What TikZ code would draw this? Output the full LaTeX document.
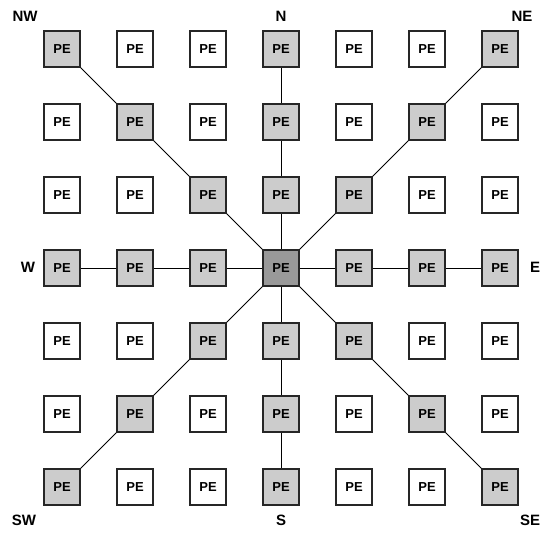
\documentclass[tikz,border=0pt]{standalone}
\usepackage{fontspec}
\setmainfont{Liberation Sans}
\begin{document}
\begin{tikzpicture}[x=1pt,y=-1pt,
  pe/.style={draw=black!85,line width=1.2pt,fill=white,minimum size=36pt,inner sep=0pt,
    font=\fontsize{13}{15}\selectfont\bfseries},
  act/.style={pe,fill=black!20},
  hub/.style={pe,fill=black!40},
  dirlabel/.style={font=\fontsize{15}{17}\selectfont\bfseries},
  link/.style={line width=0.9pt,black}]
\useasboundingbox (0,0) rectangle (546,534);
% 7x7 grid of processing elements
\foreach \i in {0,...,6}{
  \foreach \j in {0,...,6}{
    \pgfmathtruncatemacro{\di}{\i-3}
    \pgfmathtruncatemacro{\dj}{\j-3}
    \pgfmathtruncatemacro{\onaxis}{(\di==0 || \dj==0 || abs(\di)==abs(\dj)) ? 1 : 0}
    \pgfmathtruncatemacro{\iscenter}{(\di==0 && \dj==0) ? 1 : 0}
    \ifnum\iscenter=1
      \node[hub] (p\i\j) at (62+73*\i,49+73*\j) {PE};
    \else\ifnum\onaxis=1
      \node[act] (p\i\j) at (62+73*\i,49+73*\j) {PE};
    \else
      \node[pe] (p\i\j) at (62+73*\i,49+73*\j) {PE};
    \fi\fi
  }
}
% links along the eight directions from the centre
\foreach \a/\b in {33/23,23/13,13/03, 33/43,43/53,53/63,
                   33/32,32/31,31/30, 33/34,34/35,35/36,
                   33/22,22/11,11/00, 33/44,44/55,55/66,
                   33/42,42/51,51/60, 33/24,24/15,15/06}{
  \draw[link] (p\a) -- (p\b);
}
% direction labels
\node[dirlabel] (nw) at (25,16) {NW};
\node[dirlabel] (n) at (281,16) {N};
\node[dirlabel] (ne) at (522,16) {NE};
\node[dirlabel] (w) at (28,267) {W};
\node[dirlabel] (e) at (535,267) {E};
\node[dirlabel] (sw) at (24,520) {SW};
\node[dirlabel] (s) at (281,520) {S};
\node[dirlabel] (se) at (530,520) {SE};
\end{tikzpicture}
\end{document}
